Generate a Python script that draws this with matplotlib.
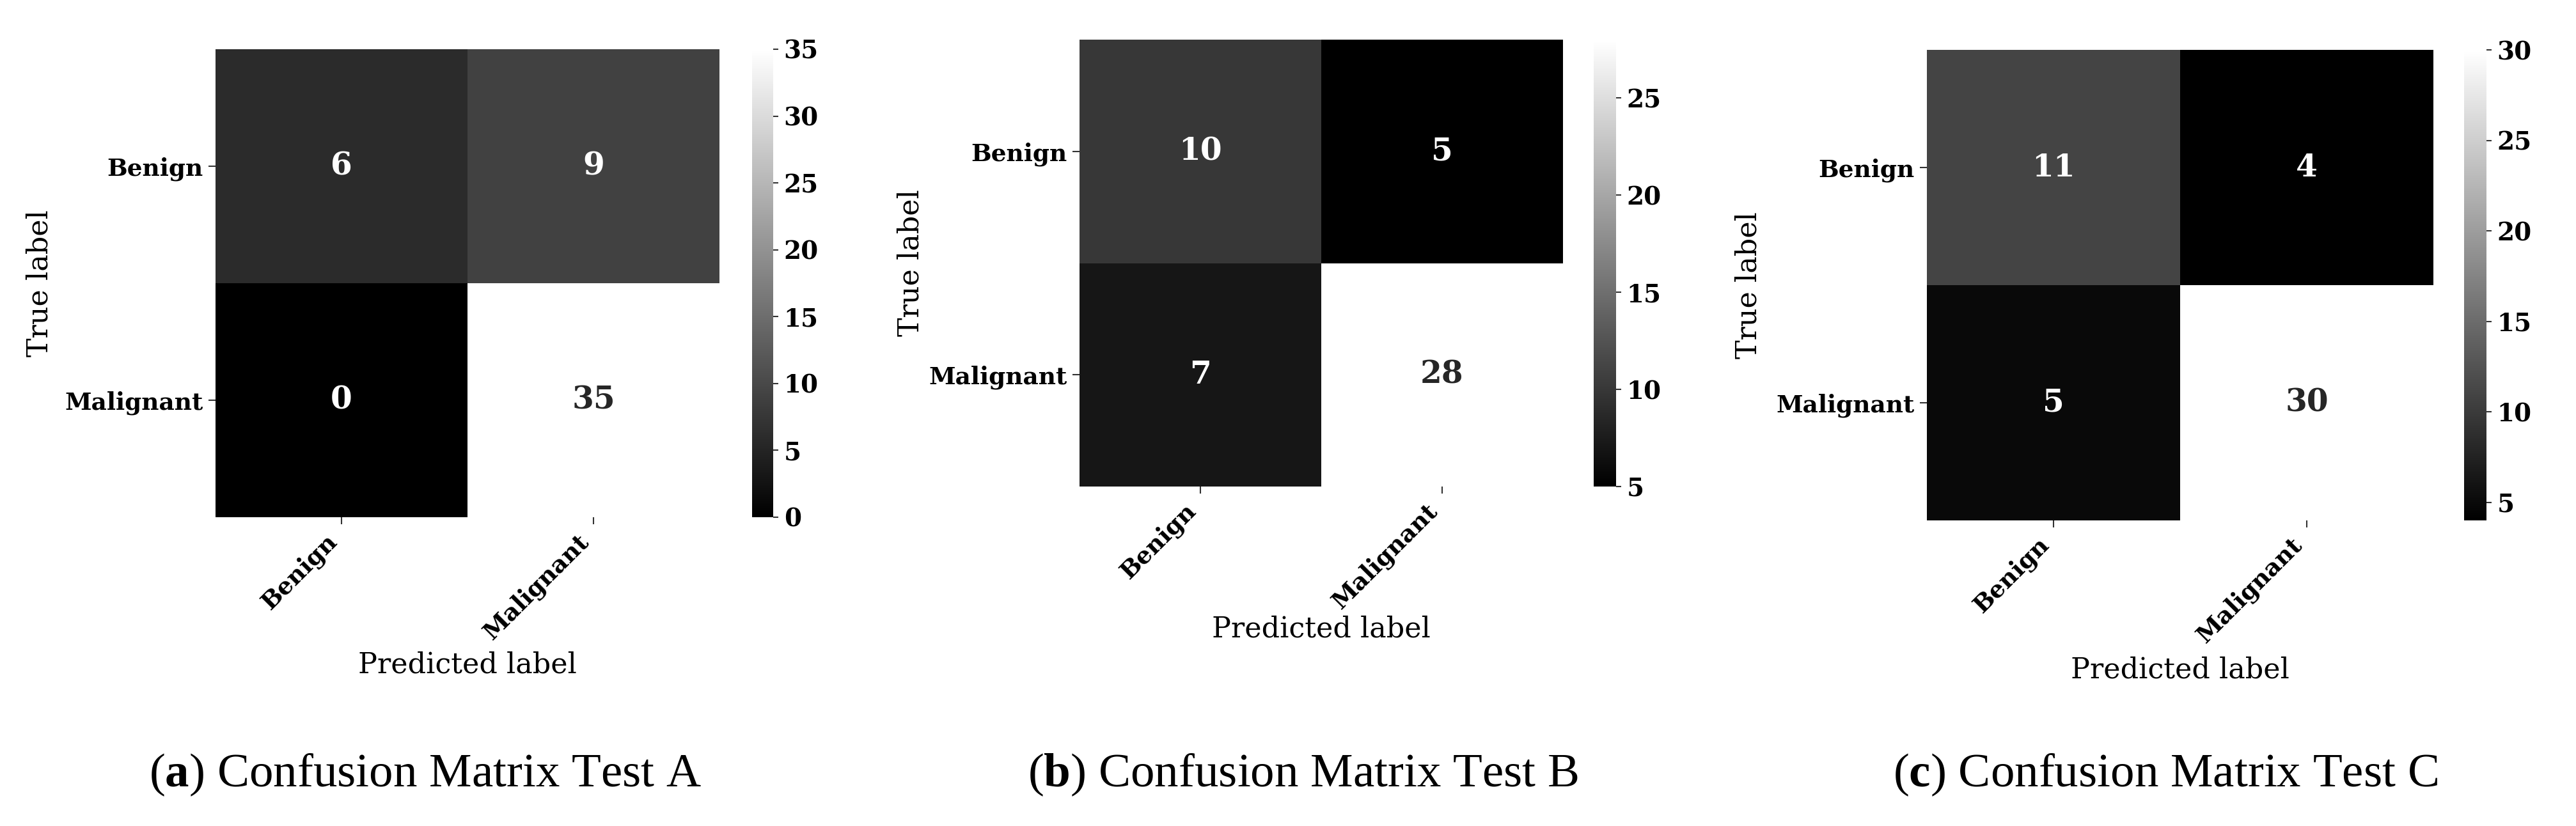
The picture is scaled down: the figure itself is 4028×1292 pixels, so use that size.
# Confusion matrices for three test sets, grey heatmaps with colour bars

import numpy as np
import matplotlib
matplotlib.use("Agg")
import matplotlib.pyplot as plt

# Data
classNames = ["Benign", "Malignant"]
cmA = [[6, 9], [0, 35]]
cmB = [[10, 5], [7, 28]]
cmC = [[11, 4], [5, 30]]
panelLetters = ["a", "b", "c"]
testNames = ["Test A", "Test B", "Test C"]

# Figure size in pixels (dpi 100)
W, H = 4028, 1292
DPI = 100

plt.rcParams["font.family"] = "serif"
plt.rcParams["font.serif"] = ["DejaVu Serif"]
plt.rcParams["mathtext.fontset"] = "custom"
plt.rcParams["mathtext.rm"] = "Liberation Serif"
plt.rcParams["mathtext.bf"] = "Liberation Serif:bold"

# Pixel boxes (left, top, right, bottom) for heatmap and colour bar of each panel
heatBoxes = [(337, 77, 1125, 809), (1688, 62, 2444, 761), (3013, 78, 3805, 814)]
cbarBoxes = [(1176, 77, 1209, 809), (2492, 62, 2527, 761), (3853, 78, 3888, 814)]
ylabelX = [62, 1424, 2734]
xlabelY = [1040, 984, 1048]
captionX = [665, 2037, 3386]
captionY = 1230

tickColor = "#333333"


def addAxesPx(fig, box):
    x0, y0, x1, y1 = box
    return fig.add_axes([x0 / W, 1 - y1 / H, (x1 - x0) / W, (y1 - y0) / H])


def drawMatrix(fig, cm, k):
    cm = np.array(cm)
    heatBox = heatBoxes[k]
    ax = addAxesPx(fig, heatBox)
    cax = addAxesPx(fig, cbarBoxes[k])

    vmin, vmax = cm.min(), cm.max()
    mesh = ax.pcolormesh(cm, cmap="gray", vmin=vmin, vmax=vmax)
    ax.set_xlim(0, cm.shape[1])
    ax.set_ylim(cm.shape[0], 0)

    # cell annotations, white on dark cells
    for i in range(cm.shape[0]):
        for j in range(cm.shape[1]):
            level = (cm[i, j] - vmin) / (vmax - vmin)
            color = "white" if level < 0.45 else "#262626"
            ax.text(j + 0.5, i + 0.5, str(cm[i, j]), ha="center", va="center",
                    fontsize=35, fontweight="bold", color=color)

    ticks = np.arange(len(classNames)) + 0.5
    ax.set_xticks(ticks, classNames, rotation=45, ha="right",
                  fontsize=27, fontweight="bold")
    ax.set_yticks(ticks, classNames, rotation=0, fontsize=27, fontweight="bold")
    ax.tick_params(length=8, width=1.5, color=tickColor, pad=6)
    for s in ax.spines.values():
        s.set_visible(False)

    # colour bar
    cb = fig.colorbar(mesh, cax=cax)
    cb.outline.set_visible(False)
    cax.tick_params(length=6, width=1.5, color=tickColor, pad=6, labelsize=28)
    for t in cax.get_yticklabels():
        t.set_fontweight("bold")

    # axis labels
    left, top, right, bottom = heatBox
    ax.set_xlabel("Predicted label", fontsize=32, va="center")
    ax.xaxis.set_label_coords(0.5, (bottom - xlabelY[k]) / (bottom - top))
    ax.set_ylabel("True label", fontsize=32, va="center")
    ax.yaxis.set_label_coords((ylabelX[k] - left) / (right - left), 0.5)

    # caption under the panel
    caption = r"($\mathbf{" + panelLetters[k] + r"}$) Confusion Matrix " + testNames[k]
    fig.text(captionX[k] / W, 1 - captionY / H, caption, ha="center", va="baseline",
             fontsize=54, family="Liberation Serif")


fig = plt.figure(figsize=(W / DPI, H / DPI), dpi=DPI)
fig.patch.set_facecolor("white")

for k, cm in enumerate([cmA, cmB, cmC]):
    drawMatrix(fig, cm, k)

fig.savefig("out.png", dpi=DPI)
